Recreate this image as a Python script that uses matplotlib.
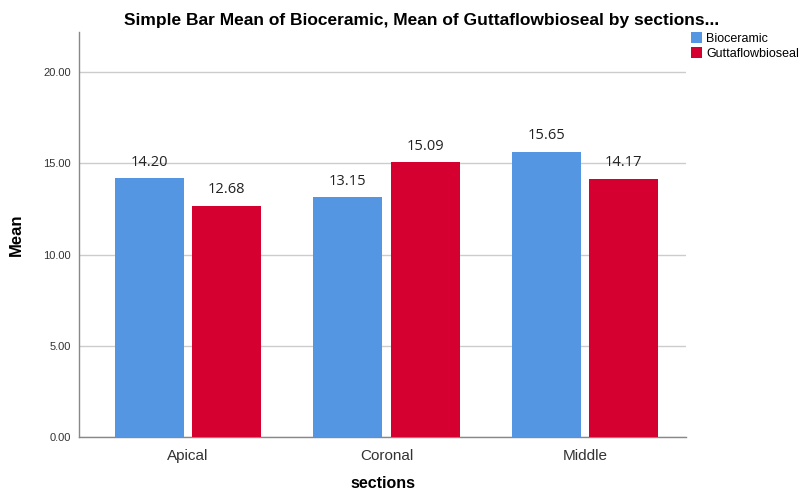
import numpy as np
import matplotlib.pyplot as plt

plt.rcParams['font.family'] = ['Liberation Sans', 'DejaVu Sans']

sections = ['Apical', 'Coronal', 'Middle']
bioceramic = [14.20, 13.15, 15.65]
guttaflow = [12.68, 15.09, 14.17]
y_ticks = [0, 5, 10, 15, 20]

BLUE = '#5596e3'
RED = '#d5002f'

fig = plt.figure(figsize=(8.11, 4.93), dpi=100)
ax = fig.add_axes([0.0974, 0.1136, 0.7486, 0.8214])

x = np.arange(len(sections))
offset = 0.195
width = 0.348

b1 = ax.bar(x - offset, bioceramic, width, color=BLUE, label='Bioceramic', zorder=3)
b2 = ax.bar(x + offset, guttaflow, width, color=RED, label='Guttaflowbioseal', zorder=3)

for bars, vals in [(b1, bioceramic), (b2, guttaflow)]:
    for bar, v in zip(bars, vals):
        ax.text(bar.get_x() + bar.get_width() / 2, v + 0.45, f'{v:.2f}',
                ha='center', va='bottom', fontsize=10.5, family='Open Sans', color='#222222')

ax.set_xlim(-0.55, 2.51)
ax.set_ylim(0, 22.2)
ax.set_yticks(y_ticks)
ax.set_yticklabels([f'{t:.2f}' for t in y_ticks], fontsize=8, color='#333333')
ax.set_xticks(x)
ax.set_xticklabels(sections, fontsize=11, color='#333333')
ax.tick_params(axis='y', length=0, pad=6)
ax.tick_params(axis='x', length=0, pad=9)

ax.yaxis.grid(True, color='#cccccc', linewidth=1, zorder=0)
for s in ['top', 'right']:
    ax.spines[s].set_visible(False)
for s in ['left', 'bottom']:
    ax.spines[s].set_color('#888888')
    ax.spines[s].set_linewidth(1)

ax.set_ylabel('Mean', fontsize=12, fontweight='bold', labelpad=14)
ax.set_xlabel('sections', fontsize=11.5, fontweight='bold', labelpad=9)

fig.text(0.52, 0.958, 'Simple Bar Mean of Bioceramic, Mean of Guttaflowbioseal by sections...',
         ha='center', va='center', fontsize=12.5, fontweight='bold')

fig.legend(handles=[b1, b2], loc='upper left', bbox_to_anchor=(0.852, 0.935),
           frameon=False, fontsize=9, handlelength=0.9, handleheight=1.0,
           handletextpad=0.3, labelspacing=0.15, borderaxespad=0, borderpad=0)

fig.savefig('out.png', dpi=100)
